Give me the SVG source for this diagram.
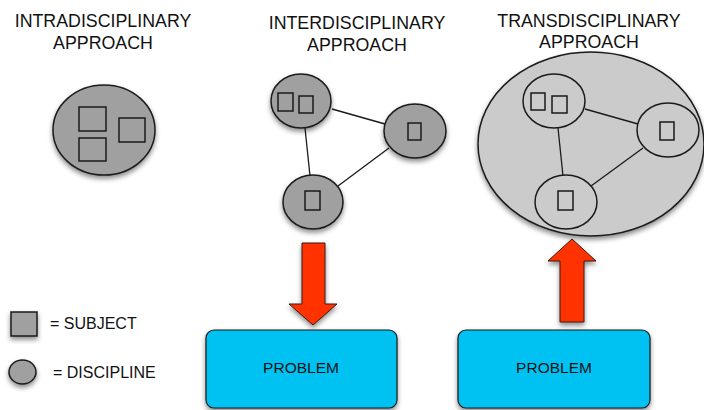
<svg xmlns="http://www.w3.org/2000/svg" width="704" height="410" viewBox="0 0 704 410">
<defs>
<filter id="sh" x="-20%" y="-20%" width="140%" height="150%">
<feDropShadow dx="0" dy="3" stdDeviation="2.5" flood-color="#000" flood-opacity="0.45"/>
</filter>
</defs>
<style>
text{font-family:"Liberation Sans",Arial,sans-serif;fill:#111;text-anchor:middle}
.t{font-size:17.8px}
.dk{fill:#a0a0a0;stroke:#1a1a1a;stroke-width:1.5}
.lt{fill:#cbcbcb;stroke:#1a1a1a;stroke-width:1.5}
.sq{fill:none;stroke:#1a1a1a;stroke-width:1.5}
.sqf{fill:#a0a0a0;stroke:#1a1a1a;stroke-width:1.5}
.ln{stroke:#1a1a1a;stroke-width:1.3;fill:none}
.ar{fill:#ff3000;stroke:#3a1a10;stroke-width:1}
.pb{fill:#00c2f2;stroke:#1a1a1a;stroke-width:1.2}
.p{font-size:15.5px}
.lg{font-size:16px;text-anchor:start}
</style>
<g id="titles">
<text class="t" x="103" y="27">INTRADISCIPLINARY</text>
<text class="t" x="103" y="49">APPROACH</text>
<text class="t" x="357" y="29">INTERDISCIPLINARY</text>
<text class="t" x="357" y="51">APPROACH</text>
<text class="t" x="589" y="27">TRANSDISCIPLINARY</text>
<text class="t" x="589" y="48">APPROACH</text>
</g>
<g id="intra">
<ellipse class="dk" cx="104" cy="130" rx="51" ry="45" filter="url(#sh)"/>
<rect class="sq" x="79" y="107" width="27" height="24"/>
<rect class="sq" x="79" y="138" width="27" height="23"/>
<rect class="sq" x="119" y="118" width="26" height="24"/>
</g>
<g id="trans-big">
<ellipse class="lt" cx="591" cy="144" rx="113" ry="92" filter="url(#sh)"/>
</g>
<g id="connectors">
<line class="ln" x1="332" y1="109" x2="385" y2="124"/>
<line class="ln" x1="305" y1="128" x2="310" y2="176"/>
<line class="ln" x1="389" y1="148" x2="338" y2="186"/>
<line class="ln" x1="585" y1="109" x2="638" y2="124"/>
<line class="ln" x1="558" y1="128" x2="563" y2="176"/>
<line class="ln" x1="643" y1="148" x2="591" y2="186"/>
</g>
<g id="inter-a">
<ellipse class="dk" cx="301" cy="101" rx="30" ry="27" filter="url(#sh)"/>
<rect class="sq" x="278" y="93" width="15" height="18"/>
<rect class="sq" x="299" y="96" width="14" height="17"/>
</g>
<g id="inter-b">
<ellipse class="dk" cx="415" cy="131" rx="31" ry="27" filter="url(#sh)"/>
<rect class="sq" x="408" y="123" width="13" height="17"/>
</g>
<g id="inter-c">
<ellipse class="dk" cx="313" cy="202" rx="30" ry="27" filter="url(#sh)"/>
<rect class="sq" x="305" y="191" width="15" height="19"/>
</g>
<g id="trans-d">
<ellipse class="lt" cx="554" cy="101" rx="31" ry="27"/>
<rect class="sq" x="531" y="93" width="14" height="17"/>
<rect class="sq" x="552" y="96" width="15" height="17"/>
</g>
<g id="trans-e">
<ellipse class="lt" cx="668" cy="130" rx="31" ry="27"/>
<rect class="sq" x="660" y="122" width="14" height="18"/>
</g>
<g id="trans-f">
<ellipse class="lt" cx="566" cy="202" rx="31" ry="27"/>
<rect class="sq" x="558" y="191" width="15" height="19"/>
</g>
<g id="arrow-down">
<path class="ar" filter="url(#sh)" d="M302,243 H325 V304 H337 L313,325 L289,304 H302 Z"/>
</g>
<g id="arrow-up">
<path class="ar" filter="url(#sh)" d="M572,239 L596,261 H584 V322 H560 V261 H548 Z"/>
</g>
<g id="problem-1">
<rect class="pb" x="206" y="330" width="191" height="78" rx="8" filter="url(#sh)"/>
<text class="p" x="301" y="373">PROBLEM</text>
</g>
<g id="problem-2">
<rect class="pb" x="458" y="330" width="192" height="78" rx="8" filter="url(#sh)"/>
<text class="p" x="554" y="373">PROBLEM</text>
</g>
<g id="legend">
<rect class="sqf" x="11" y="312" width="26" height="24" filter="url(#sh)"/>
<text class="lg" x="50" y="329">= SUBJECT</text>
<ellipse class="sqf" cx="22.5" cy="372" rx="13.5" ry="12" filter="url(#sh)"/>
<text class="lg" x="53" y="378">= DISCIPLINE</text>
</g>
</svg>
